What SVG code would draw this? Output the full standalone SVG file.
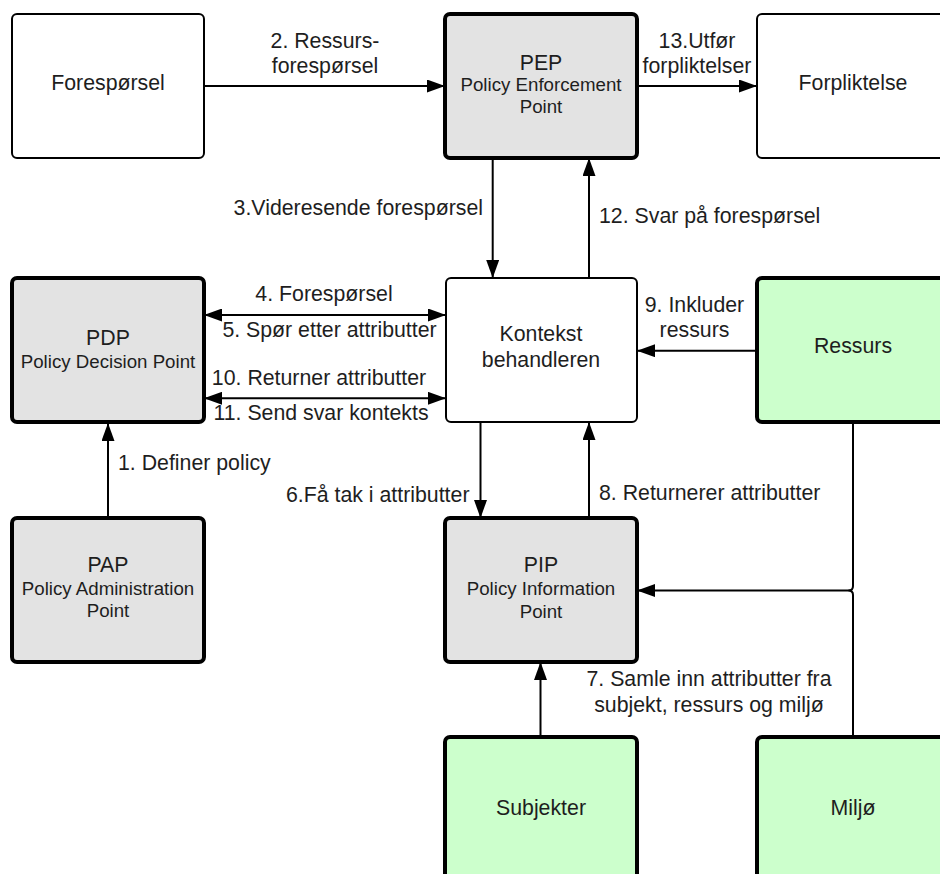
<svg xmlns="http://www.w3.org/2000/svg" width="940" height="874" viewBox="0 0 940 874">
  <style>
    text { font-family: "Liberation Sans", Arial, sans-serif; fill: #1e1e1e; }
    .t { font-size: 21.3px; text-anchor: middle; }
    .s { font-size: 18.7px; text-anchor: middle; }
    .l { font-size: 21.3px; }
    .box { stroke: #000; stroke-width: 2; fill: #fff; }
    .core { stroke: #000; stroke-width: 4; fill: #e3e3e3; }
    .src { stroke: #000; stroke-width: 4; fill: #ccffcc; }
    .conn path { fill: none; stroke: #000; stroke-width: 2; }
  </style>
  <defs>
    <marker id="arrow" viewBox="0 0 18 13" refX="18" refY="6.5" markerWidth="18" markerHeight="13" markerUnits="userSpaceOnUse" orient="auto-start-reverse">
      <path d="M0,0 L18,6.5 L0,13 Z" fill="#000"/>
    </marker>
  </defs>
  <rect width="940" height="874" fill="#fff"/>

  <!-- connectors -->
  <g class="conn">
    <path d="M204,86 H445" marker-end="url(#arrow)"/>
    <path d="M637,86 H757" marker-end="url(#arrow)"/>
    <path d="M492.7,158 V278" marker-end="url(#arrow)"/>
    <path d="M589,278 V158" marker-end="url(#arrow)"/>
    <path d="M204,315 H446" marker-start="url(#arrow)" marker-end="url(#arrow)"/>
    <path d="M204,398.3 H446" marker-start="url(#arrow)" marker-end="url(#arrow)"/>
    <path d="M757,350.7 H637" marker-end="url(#arrow)"/>
    <path d="M108,517 V423" marker-end="url(#arrow)"/>
    <path d="M480.5,422 V518" marker-end="url(#arrow)"/>
    <path d="M589,518 V422" marker-end="url(#arrow)"/>
    <path d="M540.5,737 V662" marker-end="url(#arrow)"/>
    <path d="M853,422 V586 Q853,590.5 848.5,590.5 H637" marker-end="url(#arrow)"/>
    <path d="M853,737 V595 Q853,590.5 848.5,590.5"/>
  </g>

  <!-- connector labels -->
  <g id="labels">
    <text class="t" x="325" y="48">2. Ressurs-</text>
    <text class="t" x="325" y="73">forespørsel</text>
    <text class="t" x="697" y="47.7">13.Utfør</text>
    <text class="t" x="697" y="72.7">forpliktelser</text>
    <text class="l" x="483" y="215" text-anchor="end">3.Videresende forespørsel</text>
    <text class="l" x="599" y="223">12. Svar på forespørsel</text>
    <text class="t" x="324" y="300.7">4. Forespørsel</text>
    <text class="t" x="329.5" y="336.7">5. Spør etter attributter</text>
    <text class="t" x="319" y="385">10. Returner attributter</text>
    <text class="t" x="321" y="420">11. Send svar kontekts</text>
    <text class="t" x="694.5" y="311.7">9. Inkluder</text>
    <text class="t" x="694.5" y="336.7">ressurs</text>
    <text class="l" x="118" y="470">1. Definer policy</text>
    <text class="l" x="286" y="501.7">6.Få tak i attributter</text>
    <text class="l" x="599" y="500">8. Returnerer attributter</text>
    <text class="t" x="709" y="685.8">7. Samle inn attributter fra</text>
    <text class="t" x="709" y="711.7">subjekt, ressurs og miljø</text>
  </g>

  <!-- nodes -->
  <g id="foresporsel">
    <rect class="box" x="12" y="14" width="192" height="144" rx="5"/>
    <text class="t" x="108" y="90">Forespørsel</text>
  </g>
  <g id="pep">
    <rect class="core" x="445" y="14" width="192" height="144" rx="5"/>
    <text class="t" x="541" y="69.5">PEP</text>
    <text class="s" x="541" y="91">Policy Enforcement</text>
    <text class="s" x="541" y="112.7">Point</text>
  </g>
  <g id="forpliktelse">
    <rect class="box" x="757" y="14" width="192" height="144" rx="5"/>
    <text class="t" x="853" y="90">Forpliktelse</text>
  </g>
  <g id="pdp">
    <rect class="core" x="12" y="278" width="192" height="144" rx="5"/>
    <text class="t" x="108" y="345">PDP</text>
    <text class="s" x="108" y="368.3">Policy Decision Point</text>
  </g>
  <g id="kontekst">
    <rect class="box" x="446" y="278" width="191" height="144" rx="5"/>
    <text class="t" x="541" y="340.7">Kontekst</text>
    <text class="t" x="541" y="366.7">behandleren</text>
  </g>
  <g id="ressurs">
    <rect class="src" x="757" y="278" width="192" height="144" rx="5"/>
    <text class="t" x="853" y="353.3">Ressurs</text>
  </g>
  <g id="pap">
    <rect class="core" x="12" y="518" width="192" height="144" rx="5"/>
    <text class="t" x="108" y="571.7">PAP</text>
    <text class="s" x="108" y="595">Policy Administration</text>
    <text class="s" x="108" y="616.7">Point</text>
  </g>
  <g id="pip">
    <rect class="core" x="445" y="518" width="192" height="144" rx="5"/>
    <text class="t" x="541" y="571.7">PIP</text>
    <text class="s" x="541" y="595">Policy Information</text>
    <text class="s" x="541" y="617.7">Point</text>
  </g>
  <g id="subjekter">
    <rect class="src" x="445" y="737" width="192" height="144" rx="5"/>
    <text class="t" x="541" y="815">Subjekter</text>
  </g>
  <g id="miljo">
    <rect class="src" x="757" y="737" width="192" height="144" rx="5"/>
    <text class="t" x="853" y="815">Miljø</text>
  </g>
</svg>
